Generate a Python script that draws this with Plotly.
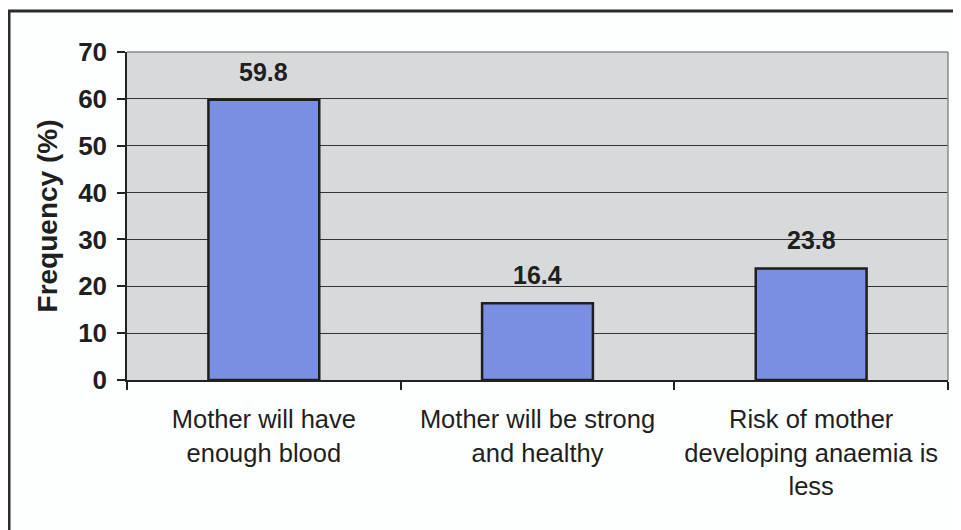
import plotly.graph_objects as go

categories = ["Mother will have<br>enough blood",
              "Mother will be strong<br>and healthy",
              "Risk of mother<br>developing anaemia is<br>less"]
values = [59.8, 16.4, 23.8]
value_labels = ["59.8", "16.4", "23.8"]
y_ticks = [0, 10, 20, 30, 40, 50, 60, 70]

FONT = "Liberation Sans, Arial, sans-serif"
TXT = "#1f1f1f"

# page has an 8px body margin; figure coordinates are page - 8
W, H = 953, 522
ML, MR, MT, MB = 119, 13, 44, 150

fig = go.Figure()
fig.add_trace(go.Bar(
    x=categories, y=values,
    width=0.405,
    marker=dict(color="#7b8fe2", line=dict(color="#1e1e1e", width=2.5)),
    hoverinfo="skip",
))

for c, v, t in zip(categories, values, value_labels):
    fig.add_annotation(x=c, y=v, text="<b>%s</b>" % t, showarrow=False,
                       yanchor="middle", yshift=28,
                       font=dict(family=FONT, size=25, color=TXT))

fig.update_layout(
    width=W, height=H,
    margin=dict(l=ML, r=MR, t=MT, b=MB),
    paper_bgcolor="#fdfefe",
    plot_bgcolor="#d7d9db",
    showlegend=False,
    font=dict(family=FONT, color=TXT),
)

fig.update_xaxes(
    type="category",
    tickson="boundaries",
    ticks="outside", ticklen=8, tickwidth=1.5, tickcolor="#222",
    showline=True, linecolor="#222", linewidth=1.5,
    showgrid=False,
    ticklabelstandoff=16,
    tickfont=dict(family=FONT, size=25.5, color=TXT),
)

fig.update_yaxes(
    range=[0, 70],
    tickvals=y_ticks,
    ticks="outside", ticklen=8, tickwidth=1.5, tickcolor="#222",
    showline=True, linecolor="#222", linewidth=1.5,
    showgrid=True, gridcolor="#333333", gridwidth=1.3,
    zeroline=False,
    ticklabelstandoff=5,
    tickfont=dict(family=FONT, size=26, color=TXT, weight="bold"),
    title=dict(text="<b>Frequency (%)</b>", standoff=12,
               font=dict(family=FONT, size=28, color=TXT)),
)

# plot-area top and right border (light gray)
fig.add_shape(type="line", xref="paper", yref="paper", x0=0, x1=1, y0=1, y1=1,
              line=dict(color="#8a8a8a", width=1.5))
fig.add_shape(type="line", xref="paper", yref="paper", x0=1, x1=1, y0=0, y1=1,
              line=dict(color="#8a8a8a", width=1.5))

# outer chart frame (left and top visible, extends past the picture)
pw, ph = W - ML - MR, H - MT - MB
fig.add_shape(type="rect", xref="paper", yref="paper",
              x0=(1 - ML) / pw, x1=(W + 20 - ML) / pw,
              y0=(-30 - MB) / ph, y1=(H - 3 - MB) / ph,
              line=dict(color="#2b2b2b", width=3), fillcolor="rgba(0,0,0,0)")

fig.write_html("out.html")
